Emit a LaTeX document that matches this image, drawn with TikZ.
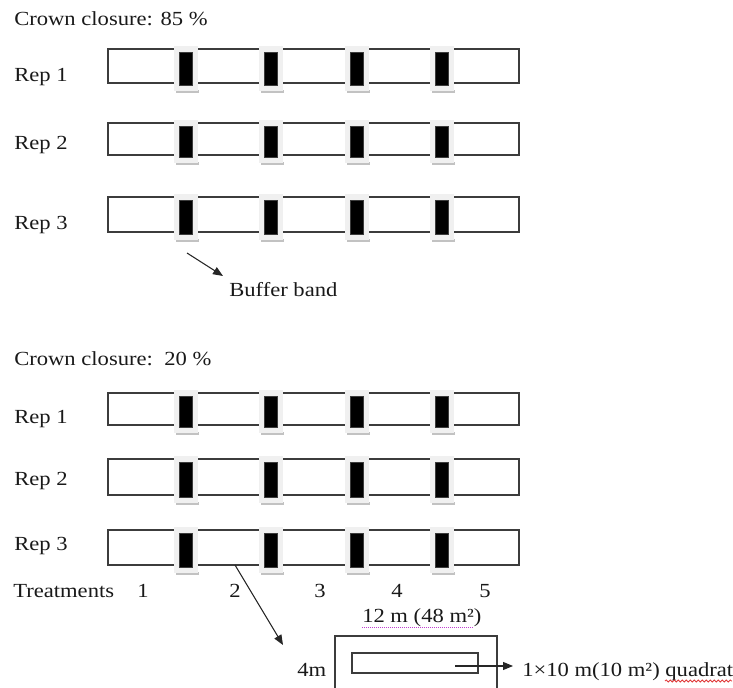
\documentclass[tikz,border=0pt]{standalone}
\usepackage{fontspec}
\setmainfont{Liberation Serif}[FakeStretch=1.13]
\usetikzlibrary{arrows.meta,decorations.pathmorphing}
\definecolor{lineink}{HTML}{3C3C3C}
\definecolor{padgrey}{HTML}{F0F0F0}
\definecolor{shadegrey}{HTML}{C2C2C2}
\definecolor{spellpink}{HTML}{C040D0}
\definecolor{spellred}{HTML}{E03838}
\tikzset{
  txt/.style={anchor=base west, inner sep=0pt, font=\fontsize{15}{18}\selectfont, text=black!90},
  num/.style={txt, anchor=base},
  plotbox/.style={draw=lineink, line width=1.1pt},
  pad/.style={fill=padgrey},
  shade/.style={fill=shadegrey},
  bar/.style={fill=black, draw=lineink, line width=0.5pt},
  arr/.style={-{Triangle[length=7.5pt, width=6pt]}, line width=0.8pt, color=black!85},
  lnk/.style={line width=0.8pt, color=black!85},
}

\begin{document}
\begin{tikzpicture}[x=0.75pt, y=-0.75pt]
  \useasboundingbox (0,0) rectangle (733,688);
  \clip (0,0) rectangle (733,688);
  % headings
  \node[txt] (cc85) at (14,26) {Crown closure: 85 \%};
  \node[txt] (cc20) at (14,366) {Crown closure:\ \ 20 \%};
  % rows: top/bottom/label baseline/name
  \foreach \t/\b/\lb/\n/\r in {49/83/82/a1/1, 123/155/150/a2/2, 197/232/230/a3/3,
                               393/425/424/b1/1, 459/495/485/b2/2, 530/565/550/b3/3}
  {
    \node[txt] (rep\n) at (14,\lb) {Rep \r};
    \draw[plotbox] (108,\t) rectangle (519,\b);
    \coordinate (top\n) at (108,\t);
    \coordinate (bot\n) at (108,\b);
    \foreach \c in {186,271,357,442}
    {
      \fill[shade] (\c-10,\b+7) rectangle (\c+13,\b+10);
      \fill[pad] (\c-12,\t-3) rectangle (\c+12,\b+8);
      \draw[bar] (\c-6.5,\t+3) rectangle (\c+6.5,\b+2);
    }
  }
  % buffer band
  \node[txt] (buff) at (229,297) {Buffer band};
  \coordinate (bufftail) at (187,253);
  \coordinate (bufftip) at (223,276);
  \draw[arr] (bufftail) -- (bufftip);
  % treatments
  \node[txt] (treat) at (13,597) {Treatments};
  \foreach \x/\k in {143/1, 235/2, 320/3, 397/4, 485/5}
    \node[num] (tr\k) at (\x,597) {\k};
  % plot detail
  \node[txt] (plotw) at (362,622) {12 m (48 m²)};
  \draw[spellpink, line width=0.75pt, dash pattern=on 0.75pt off 0.75pt] (362,627) -- (474,627);
  \node[txt] (ploth) at (297,676) {4m};
  \draw[plotbox] (335,636) rectangle (497,700);
  \draw[plotbox, line width=1pt] (352,653) rectangle (478,673);
  \coordinate (plotlink) at (235,565);
  \coordinate (plottip) at (283,645);
  \draw[arr] (plotlink) -- (plottip);
  \node[txt] (quad) at (522,676) {1×10 m(10 m²) quadrat};
  \draw[spellred, line width=0.6pt, decorate, decoration={snake, amplitude=0.8pt, segment length=3pt}] (665,681) -- (732,681);
  \coordinate (quadtail) at (455,666);
  \coordinate (quadtip) at (513,666);
  \draw[arr] (quadtail) -- (quadtip);
\end{tikzpicture}
\end{document}
